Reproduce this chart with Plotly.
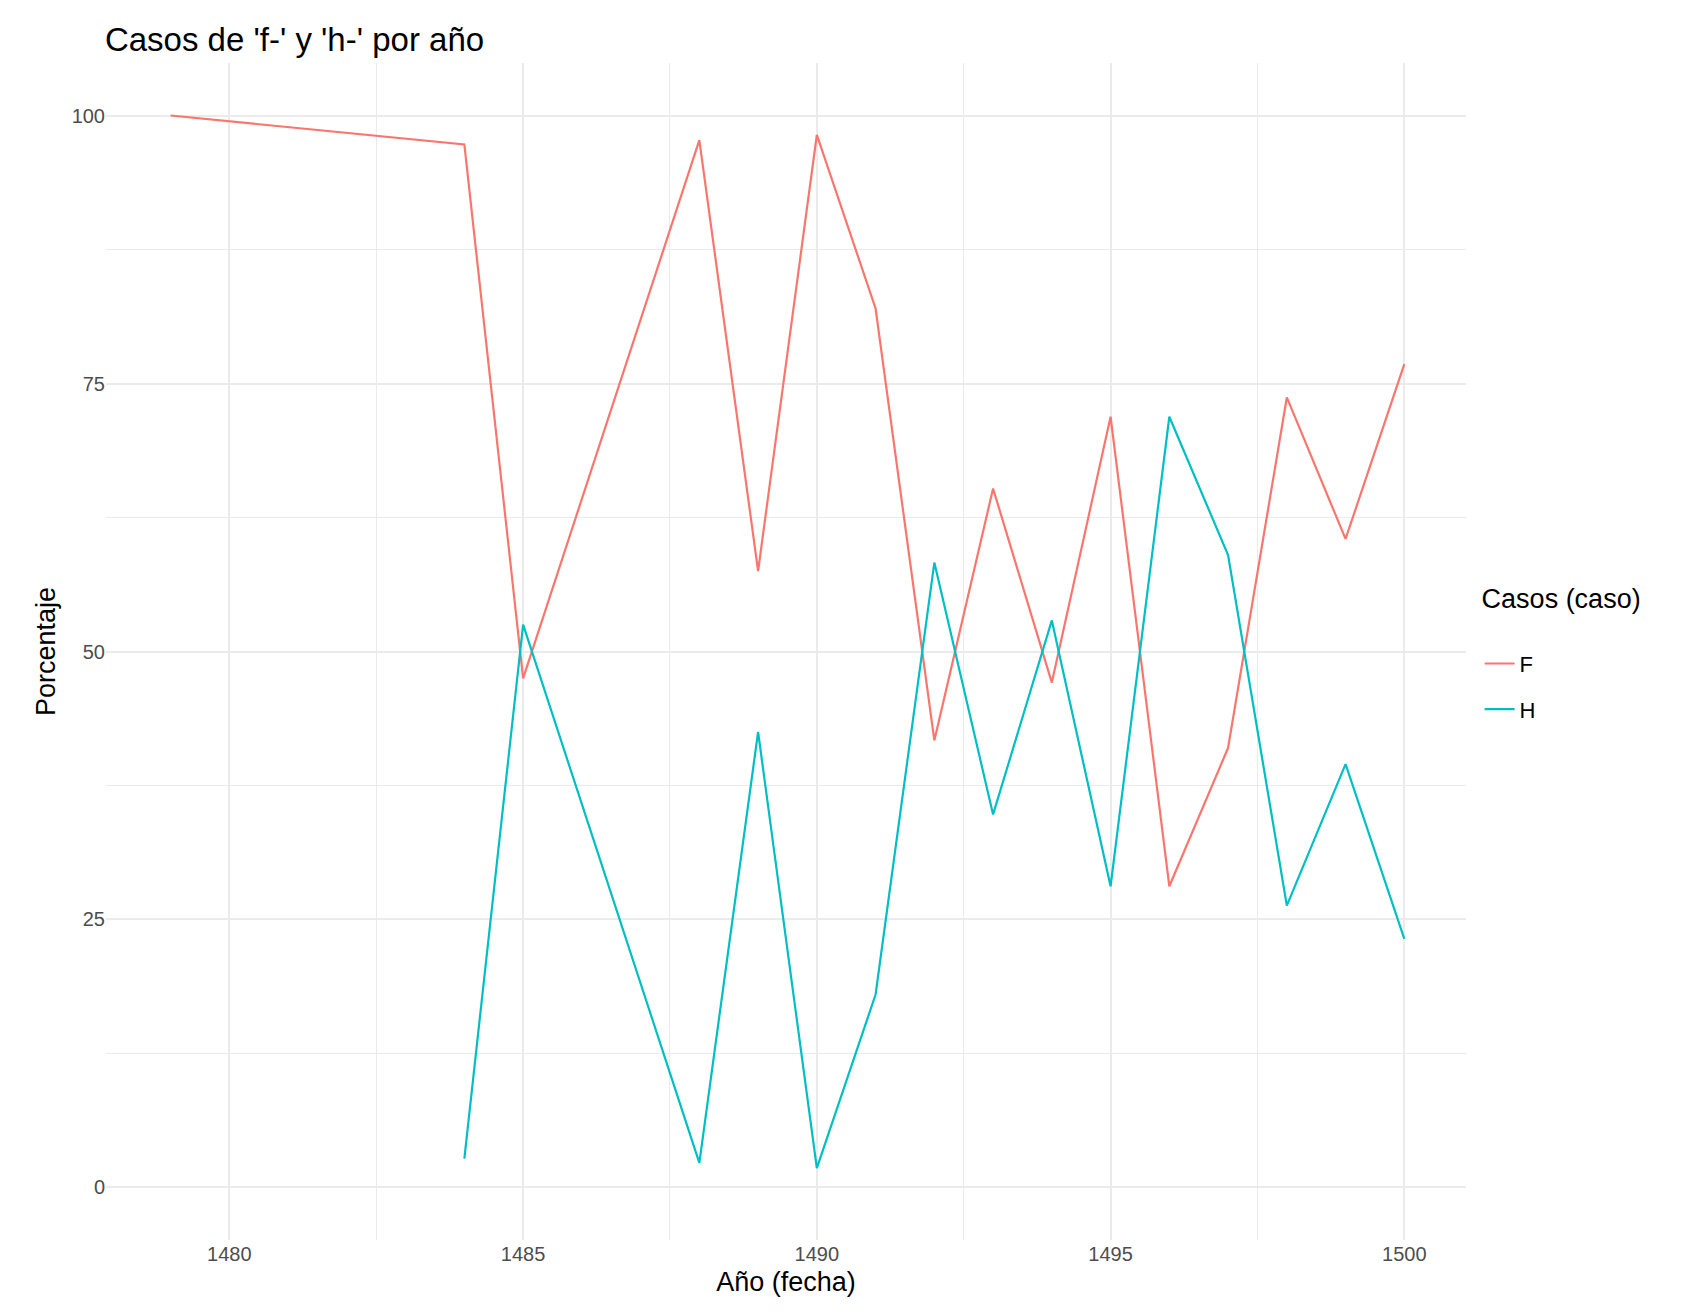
import plotly.graph_objects as go

years_f = [1479, 1484, 1485, 1488, 1489, 1490, 1491, 1492, 1493, 1494, 1495, 1496, 1497, 1498, 1499, 1500]
pct_f = [100, 97.3, 47.5, 97.7, 57.5, 98.2, 82.0, 41.7, 65.2, 47.1, 71.9, 28.1, 41.0, 73.7, 60.5, 76.8]
years_h = [1484, 1485, 1488, 1489, 1490, 1491, 1492, 1493, 1494, 1495, 1496, 1497, 1498, 1499, 1500]
pct_h = [2.7, 52.5, 2.3, 42.5, 1.8, 18.0, 58.3, 34.8, 52.9, 28.1, 71.9, 59.0, 26.3, 39.5, 23.2]

fig = go.Figure()
fig.add_trace(go.Scatter(x=years_f, y=pct_f, mode="lines", name="F", legendgroup="F",
                         line=dict(color="#F8766D", width=2.2)))
fig.add_trace(go.Scatter(x=years_h, y=pct_h, mode="lines", name="H", legendgroup="H",
                         line=dict(color="#00BFC4", width=2.2)))

grid = "#EBEBEB"
fig.update_layout(
    width=1700, height=1316,
    plot_bgcolor="white", paper_bgcolor="white",
    font=dict(family="Liberation Sans, Arial", size=20, color="black"),
    title=dict(text="Casos de 'f-' y 'h-' por año", x=0.057, y=0.985, font=dict(size=33)),
    margin=dict(l=98, r=242, t=55, b=84),
    legend=dict(title=dict(text="Casos (caso)<br> ", font=dict(size=27)), x=1.01, y=0.5,
                yanchor="middle", font=dict(size=22), tracegroupgap=14),
    xaxis=dict(title=dict(text="Año (fecha)", font=dict(size=27), standoff=8),
               range=[1477.9, 1501.05], tickvals=[1480, 1485, 1490, 1495, 1500],
               showgrid=True, gridcolor=grid, gridwidth=2.4,
               minor=dict(dtick=2.5, showgrid=True, gridcolor=grid, gridwidth=1.2),
               zeroline=False, ticks="", tickfont=dict(color="#4D4D4D")),
    yaxis=dict(title=dict(text="Porcentaje", font=dict(size=27), standoff=8),
               range=[-4.9, 104.9], tickvals=[0, 25, 50, 75, 100],
               showgrid=True, gridcolor=grid, gridwidth=2.4,
               minor=dict(dtick=12.5, showgrid=True, gridcolor=grid, gridwidth=1.2),
               zeroline=False, ticks="", tickfont=dict(color="#4D4D4D")),
)
fig.write_html("out.html")
